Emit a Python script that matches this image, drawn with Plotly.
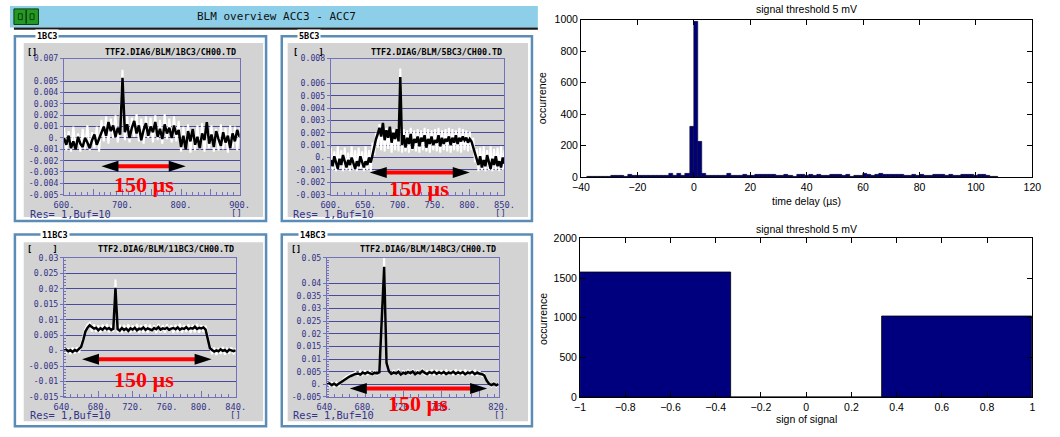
import plotly.graph_objects as go

W, H = 1060, 437

# ---------------- data : BLM oscilloscope panels ----------------
blm_names = ["1BC3", "5BC3", "11BC3", "14BC3"]
blm_channels = ["TTF2.DIAG/BLM/1BC3/CH00.TD", "TTF2.DIAG/BLM/5BC3/CH00.TD",
                "TTF2.DIAG/BLM/11BC3/CH00.TD", "TTF2.DIAG/BLM/14BC3/CH00.TD"]
blm_t0 = [600.0, 600.0, 640.0, 640.0]     # first sample time (µs)
blm_dt = [4.0, 2.5, 2.5, 2.5]             # sample spacing (µs)

bc1_black = [0.0, -0.0006, 0.0002, -0.0009, -0.0003, -0.0010, 0.0001, -0.0005, -0.0008, 0.0000,
             -0.0004, -0.0009, -0.0002, 0.0003, -0.0006, -0.0001,
             0.0004, 0.0010, 0.0002, 0.0014, 0.0006, 0.0011, 0.0001, 0.0009, 0.0003,
             0.0053,
             0.0005, 0.0012, 0.0000, 0.0009, 0.0015, 0.0004, 0.0011, -0.0002, 0.0007, 0.0013,
             0.0002, 0.0010, 0.0005, 0.0014, 0.0001, 0.0008, -0.0001, 0.0012, 0.0004, 0.0009,
             0.0000, 0.0011, 0.0003, 0.0007,
             -0.0008, 0.0002, -0.0010, 0.0006, -0.0003, 0.0008, -0.0006, 0.0001, -0.0009, 0.0004,
             -0.0002, 0.0014, -0.0005, 0.0003, -0.0008, 0.0006, -0.0001, -0.0007, 0.0005, -0.0004,
             0.0002, -0.0009, 0.0004, -0.0003, 0.0007, 0.0001]
bc1_white = [0.0009, -0.0011, 0.0006, -0.0012, 0.0010, -0.0008, 0.0004, -0.0012, 0.0008, -0.0010,
             0.0011, -0.0011, 0.0005, -0.0009, 0.0010, -0.0012,
             0.0016, -0.0003, 0.0019, -0.0005, 0.0017, 0.0000, 0.0020, -0.0004, 0.0015,
             0.0060,
             -0.0002, 0.0019, -0.0004, 0.0018, 0.0001, 0.0021, -0.0003, 0.0017, -0.0005, 0.0019,
             0.0000, 0.0018, -0.0004, 0.0020, -0.0002, 0.0016, -0.0005, 0.0021, -0.0001, 0.0017,
             -0.0004, 0.0019, -0.0003, 0.0015,
             -0.0012, 0.0010, -0.0009, 0.0012, -0.0013, 0.0009, -0.0011, 0.0011, -0.0010, 0.0013,
             -0.0012, 0.0010, -0.0009, 0.0011, -0.0012, 0.0008, -0.0011, 0.0012, -0.0010, 0.0009,
             -0.0013, 0.0011, -0.0009, 0.0010, -0.0011, 0.0009]

bc5_black = [-0.0002, -0.0007, 0.0001, -0.0005, -0.0009, -0.0001, -0.0006, 0.0002, -0.0004, -0.0008,
             -0.0002, -0.0006, 0.0000, -0.0005, -0.0009, -0.0003, -0.0007, 0.0001, -0.0004, -0.0008,
             -0.0003, -0.0006, 0.0000, -0.0004,
             0.0002, 0.0009, 0.0015, 0.0019,
             0.0024, 0.0017, 0.0028, 0.0014, 0.0022, 0.0016, 0.0025, 0.0012, 0.0020, 0.0015, 0.0023, 0.0013,
             0.0065,
             0.0010, 0.0018, 0.0008, 0.0016, 0.0011, 0.0019, 0.0007, 0.0015, 0.0012, 0.0017,
             0.0009, 0.0016, 0.0013, 0.0018, 0.0008, 0.0015, 0.0011, 0.0017, 0.0010, 0.0014,
             0.0012, 0.0018, 0.0009, 0.0016, 0.0011, 0.0015, 0.0013, 0.0017, 0.0010, 0.0016,
             0.0012, 0.0018, 0.0011, 0.0016, 0.0013, 0.0017, 0.0014, 0.0016, 0.0012, 0.0015,
             0.0013,
             0.0008, 0.0002, -0.0003,
             -0.0006, 0.0001, -0.0008, -0.0002, -0.0007, 0.0002, -0.0005, -0.0009, -0.0001, -0.0006,
             0.0001, -0.0007, -0.0003, -0.0008, 0.0000, -0.0005]
bc5_white = [0.0008, -0.0010, 0.0005, -0.0011, 0.0009, -0.0009, 0.0006, -0.0011, 0.0008, -0.0010,
             0.0004, -0.0011, 0.0009, -0.0010, 0.0006, -0.0011, 0.0008, -0.0009, 0.0005, -0.0011,
             0.0009, -0.0010, 0.0006, -0.0011,
             0.0012, 0.0002, 0.0020, 0.0008,
             0.0027, 0.0006, 0.0026, 0.0005, 0.0024, 0.0007, 0.0025, 0.0004, 0.0023, 0.0006, 0.0024, 0.0005,
             0.0072,
             0.0004, 0.0023, 0.0005, 0.0022, 0.0004, 0.0024, 0.0006, 0.0022, 0.0005, 0.0023,
             0.0004, 0.0022, 0.0006, 0.0024, 0.0005, 0.0023, 0.0004, 0.0022, 0.0006, 0.0023,
             0.0005, 0.0024, 0.0004, 0.0022, 0.0006, 0.0023, 0.0005, 0.0024, 0.0004, 0.0023,
             0.0006, 0.0022, 0.0005, 0.0024, 0.0004, 0.0023, 0.0006, 0.0022, 0.0005, 0.0021,
             0.0006,
             0.0016, -0.0004, 0.0007,
             -0.0011, 0.0008, -0.0010, 0.0009, -0.0011, 0.0006, -0.0010, 0.0009, -0.0011, 0.0007,
             -0.0010, 0.0008, -0.0011, 0.0009, -0.0010, 0.0006]

bc11_black = [0.0, 0.0003, -0.0002, 0.0001, -0.0004, 0.0002, -0.0001, 0.0005,
              0.0012, 0.0035, 0.0062, 0.0074,
              0.0082, 0.0076, 0.0071, 0.0074, 0.0066, 0.0072, 0.0068, 0.0075, 0.0069, 0.0073, 0.0067, 0.0071,
              0.0203,
              0.0070, 0.0065, 0.0073, 0.0067, 0.0071, 0.0064, 0.0072, 0.0068, 0.0074, 0.0066,
              0.0071, 0.0069, 0.0075, 0.0067, 0.0072, 0.0070, 0.0066, 0.0073, 0.0069, 0.0076,
              0.0068, 0.0072, 0.0070, 0.0074, 0.0067, 0.0071, 0.0073, 0.0069, 0.0075, 0.0068,
              0.0072, 0.0070, 0.0076, 0.0069, 0.0073, 0.0071, 0.0077, 0.0070, 0.0074, 0.0072,
              0.0075, 0.0068,
              0.0035, 0.0008,
              0.0002, -0.0003, 0.0001, -0.0002, 0.0004, -0.0001, 0.0002, -0.0004, 0.0003, 0.0000,
              -0.0002, 0.0001]
bc11_white = [0.0012, -0.0010, 0.0008, -0.0012, 0.0010, -0.0009, 0.0011, -0.0007,
              0.0020, 0.0045, 0.0070, 0.0085,
              0.0090, 0.0062, 0.0085, 0.0060, 0.0082, 0.0058, 0.0084, 0.0063, 0.0086, 0.0059, 0.0083, 0.0061,
              0.0230,
              0.0058, 0.0084, 0.0057, 0.0083, 0.0060, 0.0085, 0.0058, 0.0082, 0.0061, 0.0086,
              0.0057, 0.0083, 0.0059, 0.0085, 0.0058, 0.0084, 0.0060, 0.0082, 0.0057, 0.0086,
              0.0059, 0.0083, 0.0058, 0.0085, 0.0060, 0.0082, 0.0057, 0.0084, 0.0059, 0.0087,
              0.0058, 0.0083, 0.0060, 0.0085, 0.0057, 0.0084, 0.0059, 0.0086, 0.0058, 0.0083,
              0.0060, 0.0081,
              0.0045, 0.0012,
              -0.0012, 0.0010, -0.0014, 0.0008, -0.0011, 0.0012, -0.0013, 0.0009, -0.0010, 0.0011,
              -0.0012, 0.0007]

bc14_black = [0.0, 0.0004, -0.0003, 0.0002, -0.0004, 0.0003,
              0.0008, 0.0015, 0.0022, 0.0028, 0.0033, 0.0038, 0.0041,
              0.0043, 0.0039, 0.0046, 0.0042, 0.0047, 0.0044, 0.0040, 0.0046, 0.0043, 0.0048, 0.0245,
              0.0465,
              0.0085,
              0.0052, 0.0041, 0.0047, 0.0043, 0.0050, 0.0039, 0.0046, 0.0042, 0.0049, 0.0044,
              0.0051, 0.0040, 0.0047, 0.0043, 0.0053, 0.0045, 0.0041, 0.0048, 0.0044, 0.0050,
              0.0042, 0.0047, 0.0043, 0.0049, 0.0041, 0.0046, 0.0044, 0.0050, 0.0042, 0.0047,
              0.0043, 0.0048, 0.0040, 0.0046, 0.0044, 0.0049, 0.0041, 0.0045, 0.0043, 0.0040,
              0.0035, 0.0015, 0.0002, -0.0003, 0.0002, -0.0004, 0.0001]
bc14_white = [0.0008, -0.0006, 0.0006, -0.0008, 0.0007, -0.0005,
              0.0012, 0.0020, 0.0030, 0.0034, 0.0040, 0.0044, 0.0049,
              0.0036, 0.0053, 0.0038, 0.0055, 0.0037, 0.0052, 0.0036, 0.0054, 0.0039, 0.0056, 0.0260,
              0.0505,
              0.0095,
              0.0058, 0.0036, 0.0056, 0.0038, 0.0060, 0.0035, 0.0055, 0.0037, 0.0058, 0.0036,
              0.0059, 0.0034, 0.0056, 0.0038, 0.0061, 0.0036, 0.0055, 0.0037, 0.0058, 0.0035,
              0.0057, 0.0038, 0.0056, 0.0036, 0.0058, 0.0037, 0.0055, 0.0036, 0.0059, 0.0038,
              0.0056, 0.0035, 0.0058, 0.0037, 0.0055, 0.0036, 0.0057, 0.0034, 0.0052, 0.0033,
              0.0040, 0.0020, 0.0006, -0.0008, 0.0007, -0.0009, 0.0005]

blm_black = [bc1_black, bc5_black, bc11_black, bc14_black]
blm_white = [bc1_white, bc5_white, bc11_white, bc14_white]

# axes of the scope panels
blm_xrange = [[600, 900], [600, 850], [640, 840], [640, 820]]
blm_xticks = [[600, 650, 700, 750, 800, 850, 900], [600, 650, 700, 750, 800, 850],
              [640, 680, 720, 760, 800, 840], [640, 680, 720, 760, 800, 820]]
blm_xlabels = [["600.", "", "700.", "", "800.", "", "900."],
               ["600.", "650.", "700.", "750.", "800.", "850."],
               ["640.", "680.", "720.", "760.", "800.", "840."],
               ["640.", "680.", "720.", "760.", "", "820."]]
blm_xminor = [10, 10, 8, 8]
blm_yrange = [[-0.005, 0.007], [-0.003, 0.008], [-0.015, 0.03], [-0.005, 0.05]]
blm_yticks = [[-0.005, -0.004, -0.003, -0.002, -0.001, 0, 0.001, 0.002, 0.003, 0.004, 0.005, 0.007],
              [-0.003, -0.002, -0.001, 0, 0.001, 0.002, 0.003, 0.004, 0.005, 0.006, 0.008],
              [-0.015, -0.01, -0.005, 0, 0.005, 0.01, 0.015, 0.02, 0.025, 0.03],
              [-0.005, 0, 0.005, 0.01, 0.015, 0.02, 0.025, 0.03, 0.035, 0.04, 0.05]]
blm_ylabels = [["-0.005", "-0.004", "-0.003", "-0.002", "-0.001", "0.", "0.001", "0.002", "0.003", "0.004", "0.005", "0.007"],
               ["-0.003", "-0.002", "-0.001", "0.", "0.001", "0.002", "0.003", "0.004", "0.005", "0.006", "0.008"],
               ["-0.015", "-0.01", "-0.005", "0.", "0.005", "0.01", "0.015", "0.02", "0.025", "0.03"],
               ["-0.005", "0.", "0.005", "0.01", "0.015", "0.02", "0.025", "0.03", "0.035", "0.04", "0.05"]]
blm_yminor = [None, None, 0.001, 0.001]

# "150 µs" arrows drawn on each panel (data coordinates)
arrow_x0 = [664, 656, 661, 664]
arrow_x1 = [808, 800, 812, 808]
arrow_y = [-0.0025, -0.0012, -0.0028, -0.0017]
arrow_label = "150 µs"
arrow_label_x = [737, 727, 733, 736]
arrow_label_y = [-0.0041, -0.0025, -0.0093, -0.0074]

# ---------------- data : histograms ----------------
delay_bin_start = -38.0
delay_bin_width = 1.46
delay_counts = [3, 3, 3, 3, 3, 3, 8, 8, 8, 6,
                15, 8, 8, 8, 8, 12, 12, 12, 12, 10,
                25, 10, 20, 8, 20, 320, 985, 225, 25, 12,
                12, 12, 12, 12, 25, 8, 8, 12, 15, 12,
                12, 15, 15, 15, 15, 15, 8, 8, 15, 8,
                5, 15, 15, 10, 15, 8, 15, 8, 8, 15,
                15, 15, 10, 15, 5, 12, 10, 20, 15, 10,
                15, 20, 15, 15, 15, 18, 15, 10, 8, 15,
                10, 15, 10, 10, 15, 15, 15, 10, 15, 12,
                8, 15, 15, 15, 8, 15, 15, 8, 5, 3]
sign_centers = [-2 / 3, 0.0, 2 / 3]
sign_width = 2 / 3
sign_counts = [1570, 0, 1010]

# ---------------- layout geometry (pixels) ----------------
frames = [(5, 261, 31, 221), (277, 532, 31, 221), (5, 261, 235, 432), (277, 532, 235, 432)]
grays = [(14, 258, 38, 217), (283, 528, 38, 217), (14, 258, 243, 427), (283, 528, 243, 427)]
axes_px = [(55, 234, 54, 194), (327, 504, 54, 194), (55, 230, 259, 402), (323, 498, 259, 402)]
grp_lbl = [(38, 31), (305, 31), (46, 235), (309, 235)]
tl_txt = ["[]", "[    ]", "[    ]", "[]"]
tl_pos = [(15, 47), (286, 47), (15, 250), (284, 250)]
ch_pos = [(164, 47), (435, 47), (159, 250), (426, 250)]
res_pos = [(18, 214), (286, 214), (18, 421), (286, 421)]
br_pos = [(231, 213), (500, 213), (230, 421), (499, 421)]


def fx(p):
    return p / W


def fy(p):
    return 1 - p / H


MONO = "DejaVu Sans Mono"
SANS = "Liberation Sans"
SC_TXT = "#34348a"
SC_GRID = "#4a4a9c"
SC_LINE = "#7272bc"
FRAME = "#5b8cb6"
GRAY = "#d3d3d3"
NAVY = "#00007f"

fig = go.Figure()
shapes = []
ann = []


def paper_text(text, x, y, size, color, family=MONO, xanchor="center", **kw):
    d = dict(text=text, x=fx(x), y=fy(y), xref="paper", yref="paper", showarrow=False,
             xanchor=xanchor, yanchor="middle", font=dict(family=family, size=size, color=color))
    d.update(kw)
    ann.append(d)


# title bar
shapes.append(dict(type="rect", xref="paper", yref="paper", x0=0, x1=fx(538), y0=fy(22), y1=1,
                   fillcolor="#8dcfe9", line=dict(width=0), layer="below"))
shapes.append(dict(type="rect", xref="paper", yref="paper", x0=fx(4), x1=fx(538), y0=fy(24.5), y1=fy(22),
                   fillcolor="#1a1a1a", line=dict(width=0), layer="below"))
shapes.append(dict(type="rect", xref="paper", yref="paper", x0=fx(4), x1=fx(29), y0=fy(19), y1=fy(3),
                   fillcolor="#249a24", line=dict(color="#0c3d0c", width=1), layer="below"))
shapes.append(dict(type="line", xref="paper", yref="paper", x0=fx(16.5), x1=fx(16.5), y0=fy(18), y1=fy(4),
                   line=dict(color="#0c3d0c", width=1.5), layer="below"))
for cx in (10.5, 22.5):
    shapes.append(dict(type="rect", xref="paper", yref="paper", x0=fx(cx - 2), x1=fx(cx + 2),
                       y0=fy(14), y1=fy(8), fillcolor="rgba(0,0,0,0)",
                       line=dict(color="#0c3d0c", width=1), layer="below"))
paper_text("BLM overview ACC3 - ACC7", 272, 11, 11, "#111111")

for i in range(4):
    n = "" if i == 0 else str(i + 1)
    fr, gr, ap = frames[i], grays[i], axes_px[i]
    shapes.append(dict(type="rect", xref="paper", yref="paper", x0=fx(fr[0]), x1=fx(fr[1]),
                       y0=fy(fr[3]), y1=fy(fr[2]), fillcolor="white",
                       line=dict(color=FRAME, width=2.5), layer="below"))
    shapes.append(dict(type="rect", xref="paper", yref="paper", x0=fx(gr[0]), x1=fx(gr[1]),
                       y0=fy(gr[3]), y1=fy(gr[2]), fillcolor=GRAY, line=dict(width=0), layer="below"))

    t = [blm_t0[i] + blm_dt[i] * k for k in range(len(blm_black[i]))]
    fig.add_trace(go.Scatter(x=t, y=blm_white[i], mode="lines", line=dict(color="white", width=2),
                             xaxis="x" + n, yaxis="y" + n, hoverinfo="skip"))
    fig.add_trace(go.Scatter(x=t, y=blm_black[i], mode="lines", line=dict(color="black", width=2.5),
                             xaxis="x" + n, yaxis="y" + n, hoverinfo="skip"))

    xa = dict(domain=[fx(ap[0]), fx(ap[1])], range=blm_xrange[i], anchor="y" + n,
              tickmode="array", tickvals=blm_xticks[i], ticktext=blm_xlabels[i],
              ticks="inside", ticklen=6, tickcolor=SC_LINE, showgrid=False, zeroline=False,
              showline=True, mirror=True, linecolor=SC_LINE, linewidth=1,
              tickfont=dict(family=MONO, size=8.7, color=SC_TXT), ticklabelstandoff=2,
              minor=dict(tick0=blm_xrange[i][0], dtick=blm_xminor[i], ticks="inside", ticklen=3,
                         tickcolor=SC_LINE, showgrid=False))
    ya = dict(domain=[fy(ap[3]), fy(ap[2])], range=blm_yrange[i], anchor="x" + n,
              tickmode="array", tickvals=blm_yticks[i], ticktext=blm_ylabels[i],
              ticks="outside", ticklen=3, tickcolor=SC_LINE, showgrid=True, gridcolor=SC_GRID,
              gridwidth=1.2, zeroline=False, showline=True, mirror=True, linecolor=SC_LINE,
              linewidth=1, tickfont=dict(family=MONO, size=8.2, color=SC_TXT))
    if blm_yminor[i]:
        ya["minor"] = dict(tick0=0, dtick=blm_yminor[i], ticks="inside", ticklen=2,
                           tickcolor=SC_LINE, showgrid=False)
    fig.update_layout(**{"xaxis" + n: xa, "yaxis" + n: ya})

    # arrow
    xlo, xhi = blm_xrange[i]
    ylo, yhi = blm_yrange[i]
    scale = (ap[1] - ap[0]) / (xhi - xlo)
    xr, yr = "x" + n, "y" + n
    shapes.append(dict(type="line", xref=xr, yref=yr, x0=arrow_x0[i] + 10 / scale, x1=arrow_x1[i] - 10 / scale,
                       y0=arrow_y[i], y1=arrow_y[i], line=dict(color="#ff0000", width=4)))
    shapes.append(dict(type="path", xref=xr, yref=yr, xsizemode="pixel", ysizemode="pixel",
                       xanchor=arrow_x0[i], yanchor=arrow_y[i], path="M 0 0 L 17 5.5 L 17 -5.5 Z",
                       fillcolor="black", line=dict(width=0)))
    shapes.append(dict(type="path", xref=xr, yref=yr, xsizemode="pixel", ysizemode="pixel",
                       xanchor=arrow_x1[i], yanchor=arrow_y[i], path="M 0 0 L -17 5.5 L -17 -5.5 Z",
                       fillcolor="black", line=dict(width=0)))
    # label may lie below the axis range -> place it in paper coordinates via axis geometry
    lx = ap[0] + (arrow_label_x[i] - xlo) * scale
    ly = ap[2] + (yhi - arrow_label_y[i]) / (yhi - ylo) * (ap[3] - ap[2])
    paper_text("<b>" + arrow_label + "</b>", lx, ly, 22, "#ff0000", family="Liberation Serif")

    # panel texts
    paper_text("<b>" + blm_names[i] + "</b>", grp_lbl[i][0], grp_lbl[i][1], 8.5, "black",
               bgcolor="white", borderpad=1)
    paper_text("<b>" + tl_txt[i] + "</b>", tl_pos[i][0], tl_pos[i][1], 8.5, "black", xanchor="left")
    paper_text("<b>" + blm_channels[i] + "</b>", ch_pos[i][0], ch_pos[i][1], 8.4, "black")
    paper_text("Res= 1,Buf=10", res_pos[i][0], res_pos[i][1], 10.3, SC_TXT, xanchor="left")
    paper_text("[]", br_pos[i][0], br_pos[i][1], 9, SC_TXT)

# ---------------- histograms ----------------
delay_centers = [delay_bin_start + delay_bin_width * (k + 0.5) for k in range(len(delay_counts))]
fig.add_trace(go.Bar(x=delay_centers, y=delay_counts, width=delay_bin_width, xaxis="x5", yaxis="y5",
                     marker=dict(color=NAVY, line=dict(color="black", width=0.5)), hoverinfo="skip"))
fig.add_trace(go.Bar(x=sign_centers, y=sign_counts, width=sign_width, xaxis="x6", yaxis="y6",
                     marker=dict(color=NAVY, line=dict(color="black", width=0.8)), hoverinfo="skip"))


def mat_axis(dom, rng, dtick, anchor):
    return dict(domain=dom, range=rng, anchor=anchor, tickmode="linear", tick0=rng[0], dtick=dtick,
                ticks="inside", ticklen=5, tickcolor="black", showline=True, linecolor="black",
                linewidth=1, mirror="ticks", showgrid=False, zeroline=False,
                tickfont=dict(family=SANS, size=10.5, color="black"))


fig.update_layout(
    xaxis5=mat_axis([fx(582), fx(1042)], [-40, 120], 20, "y5"),
    yaxis5=mat_axis([fy(176), fy(14)], [0, 1000], 200, "x5"),
    xaxis6=mat_axis([fx(581), fx(1042)], [-1, 1], 0.2, "y6"),
    yaxis6=mat_axis([fy(402), fy(239)], [0, 2000], 500, "x6"),
)

hist_txt = [("signal threshold 5 mV", 812, 3, 0), ("time delay (µs)", 812, 200, 0), ("occurrence", 543, 95, -90),
            ("signal threshold 5 mV", 812, 229, 0), ("sign of signal", 812, 425, 0), ("occurrence", 543, 322, -90)]
for txt, x, y, rot in hist_txt:
    paper_text(txt, x, y, 10.5, "black", family=SANS, textangle=rot)

fig.update_layout(width=W, height=H, margin=dict(l=0, r=0, t=0, b=0), autosize=False,
                  paper_bgcolor="white", plot_bgcolor="rgba(0,0,0,0)", showlegend=False,
                  bargap=0, shapes=shapes, annotations=ann)

fig.write_html("out.html")
